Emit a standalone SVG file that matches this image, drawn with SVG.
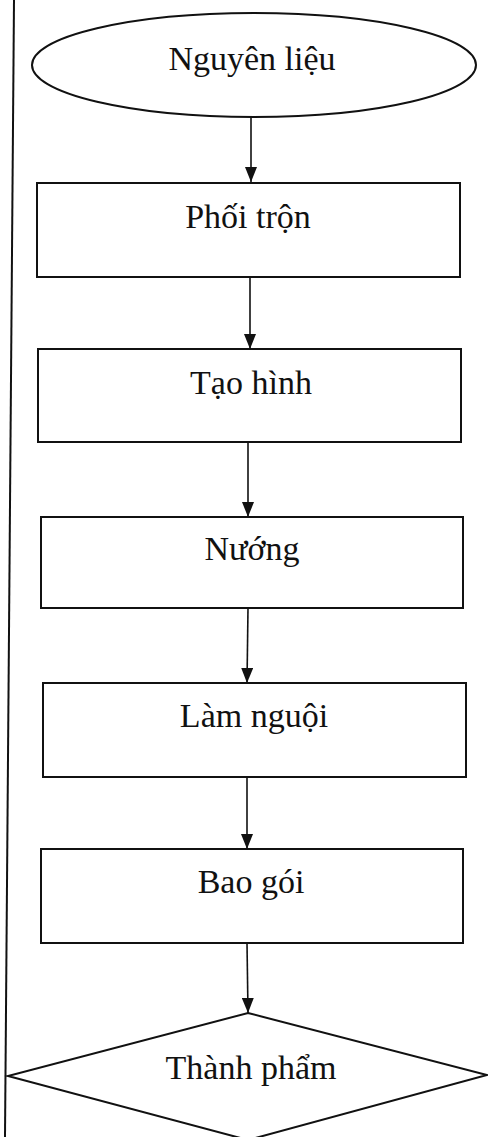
<svg xmlns="http://www.w3.org/2000/svg" width="488" height="1137" viewBox="0 0 488 1137">
<style>
.shape{fill:#fff;stroke:#111;stroke-width:2}
.lbl{font-family:"Liberation Serif","Times New Roman",serif;font-size:34px;fill:#111;text-anchor:middle}
.conn{stroke:#111;stroke-width:1.6;fill:none;marker-end:url(#arr)}
</style>
<defs>
<marker id="arr" viewBox="0 0 15 12" refX="15" refY="6" markerWidth="15" markerHeight="12" markerUnits="userSpaceOnUse" orient="auto">
<path d="M0,0 L15,6 L0,12 z" fill="#111"/>
</marker>
</defs>
<rect width="488" height="1137" fill="#fff"/>
<line x1="14" y1="0" x2="5" y2="1137" stroke="#111" stroke-width="2"/>
<g id="connectors">
<line class="conn" x1="251" y1="117" x2="251" y2="182"/>
<line class="conn" x1="250" y1="277" x2="250" y2="349"/>
<line class="conn" x1="248" y1="442" x2="248" y2="517"/>
<line class="conn" x1="248" y1="608" x2="247" y2="683"/>
<line class="conn" x1="247" y1="777" x2="247" y2="849"/>
<line class="conn" x1="247" y1="943" x2="248" y2="1013"/>
</g>
<g id="n-nguyenlieu">
<ellipse class="shape" cx="254" cy="65" rx="222" ry="52"/>
<text class="lbl" x="252" y="70">Nguyên liệu</text>
</g>
<g id="n-phoitron">
<rect class="shape" x="37" y="183" width="423" height="94"/>
<text class="lbl" x="248" y="228">Phối trộn</text>
</g>
<g id="n-taohinh">
<rect class="shape" x="38" y="349" width="423" height="93"/>
<text class="lbl" x="251" y="394">Tạo hình</text>
</g>
<g id="n-nuong">
<rect class="shape" x="41" y="517" width="422" height="91"/>
<text class="lbl" x="252" y="560">Nướng</text>
</g>
<g id="n-lamnguoi">
<rect class="shape" x="43" y="683" width="423" height="94"/>
<text class="lbl" x="254" y="727">Làm nguội</text>
</g>
<g id="n-baogoi">
<rect class="shape" x="41" y="849" width="422" height="94"/>
<text class="lbl" x="251" y="893">Bao gói</text>
</g>
<g id="n-thanhpham">
<polygon class="shape" points="248,1013 487,1075 248,1140 8,1076"/>
<text class="lbl" x="251" y="1079">Thành phẩm</text>
</g>
</svg>
